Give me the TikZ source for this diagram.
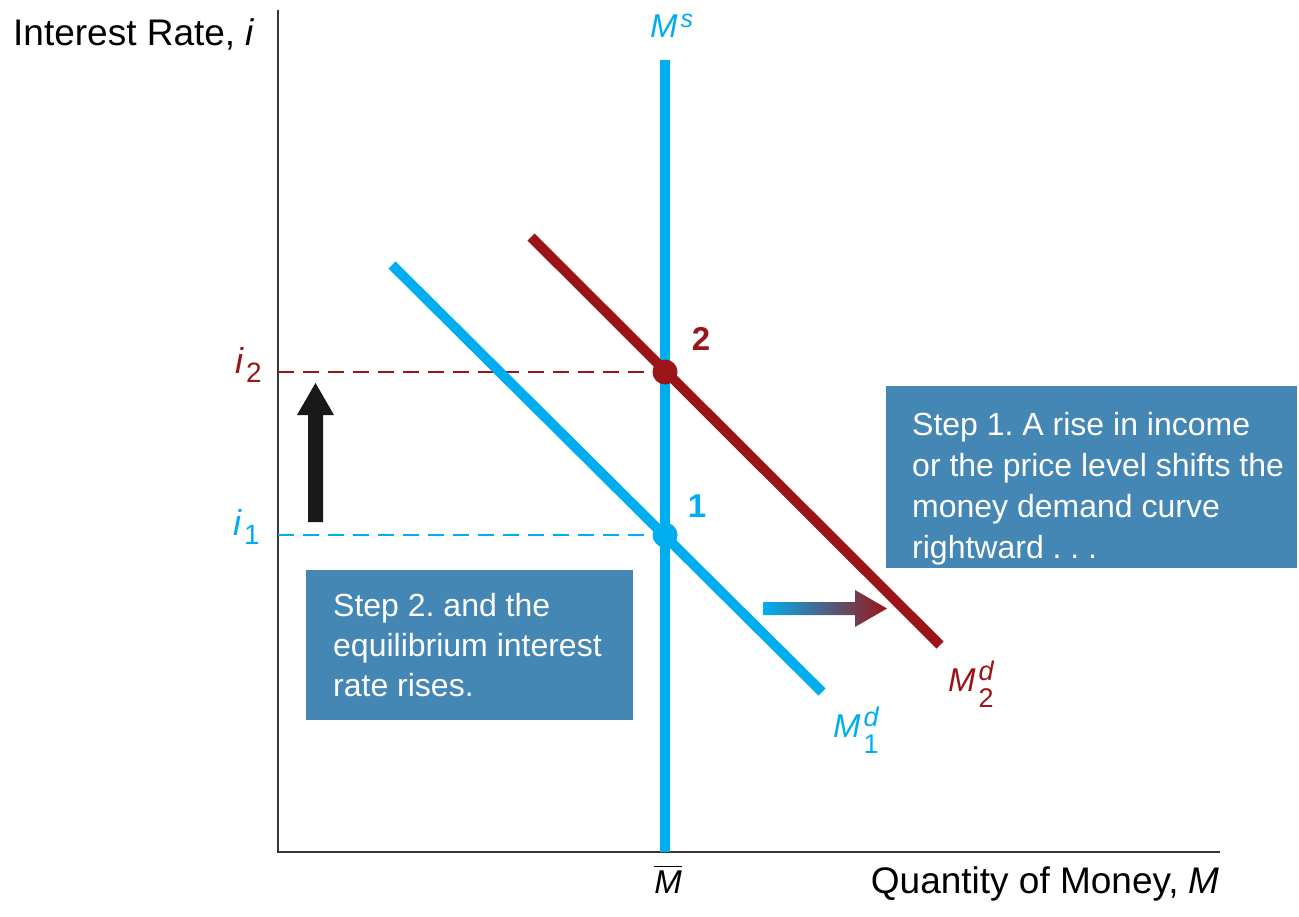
\documentclass[tikz,border=0pt]{standalone}
\usepackage{fontspec}
\usepackage{amsmath}
\setmainfont{Liberation Sans}
\frenchspacing
\newcommand{\scr}{\fontsize{27}{27}\selectfont}
\newcommand{\msd}[2]{\textit{M}\kern3pt\rlap{\raisebox{11pt}{\scr\textit{#1}}}\raisebox{-16pt}{\scr #2}}
\newcommand{\isub}[1]{\textit{i}\kern2pt\raisebox{-9pt}{\fontsize{28}{28}\selectfont #1}}
\definecolor{mcyan}{RGB}{0,174,239}
\definecolor{mred}{RGB}{155,21,24}
\definecolor{boxblue}{RGB}{68,134,180}
\definecolor{axisgray}{RGB}{55,55,55}
\begin{document}
\begin{tikzpicture}[x=1pt,y=-1pt,
  axis/.style={axisgray, line width=2},
  curve/.style={line width=10},
  guide/.style={line width=2, dash pattern=on 16pt off 9pt},
  big/.style={font=\fontsize{37}{44}\selectfont, inner sep=0},
  mlab/.style={font=\fontsize{33}{40}\selectfont, inner sep=0, anchor=base west},
  ilab/.style={font=\fontsize{36}{40}\selectfont, inner sep=0, anchor=base west},
  boxtxt/.style={font=\fontsize{32}{41}\selectfont, text=white, align=left, anchor=north west, inner sep=0},
  stepbox/.style={fill=boxblue, draw=none},
  dot/.style={circle, minimum size=25, inner sep=0},
  num/.style={font=\fontsize{33}{40}\selectfont\bfseries, inner sep=0}]
\useasboundingbox (0,0) rectangle (1299,916);

% axes
\coordinate (O) at (278,852);
\coordinate (ytop) at (278,10);
\coordinate (xend) at (1220,852);
\draw[axis] (ytop) -- (O) -- (xend);

% coordinates
\coordinate (mstop) at (665,60);
\coordinate (msbot) at (665,852);
\coordinate (d1a) at (392,265);
\coordinate (d1b) at (822,692);
\coordinate (d2a) at (531,237);
\coordinate (d2b) at (940,645);
\coordinate (g2) at (278,372);
\coordinate (g1) at (278,535);

\node[dot] (p2) at (665,372) {};
\node[dot] (p1) at (665,535) {};

% dashed guides
\draw[guide, mred] (g2) -- (p2.center);
\draw[guide, mcyan] (g1) -- (p1.center);

% curves
\draw[curve, mcyan] (mstop) -- (msbot);
\draw[curve, mcyan] (d1a) -- (d1b);
\draw[curve, mred] (d2a) -- (d2b);

% dots
\fill[mred] (p2) circle (12.5);
\fill[mcyan] (p1) circle (12.5);

\node[num, text=mred] (n2) at (701,339) {2};
\node[num, text=mcyan] (n1) at (697,506) {1};

% black arrow
\fill[black!90] (308,522) -- (323,522) -- (323,415) -- (334,415) -- (315.5,383) -- (297,415) -- (308,415) -- cycle;

% gradient arrow
\shade[left color=mcyan, right color=mred] (763,602) -- (855,602) -- (855,590) -- (887,608.5) -- (855,627) -- (855,615) -- (763,615) -- cycle;

% boxes
\path[stepbox] (886,386) rectangle (1297,568);
\node[boxtxt] (s1) at (912,412) {Step 1. A rise in income\\or the price level shifts the\\money demand curve\\rightward . . .};
\path[stepbox] (306,570) rectangle (633,720);
\node[boxtxt, font=\fontsize{32}{40}\selectfont] (s2) at (333,593) {Step 2. and the\\equilibrium interest\\rate rises.};

% labels
\node[big, anchor=north west] (ylab) at (13,18) {Interest Rate, \textit{i}};
\node[big, anchor=base east] (xlab) at (1220,893) {Quantity of Money, \textit{M}};
\node[mlab, anchor=base] (mbar) at (668,893) {$\overline{\textit{M}}$};
\node[mlab, text=mcyan] (mslab) at (650,37) {\textit{M}\kern3pt\raisebox{10pt}{\fontsize{25}{25}\selectfont\textit{s}}};
\node[mlab, text=mred] (m2lab) at (948,691) {\msd{d}{2}};
\node[mlab, text=mcyan] (m1lab) at (833,737) {\msd{d}{1}};
\node[ilab, text=mred] (i2lab) at (235,373) {\isub{2}};
\node[ilab, text=mcyan] (i1lab) at (233,535) {\isub{1}};
\end{tikzpicture}
\end{document}
